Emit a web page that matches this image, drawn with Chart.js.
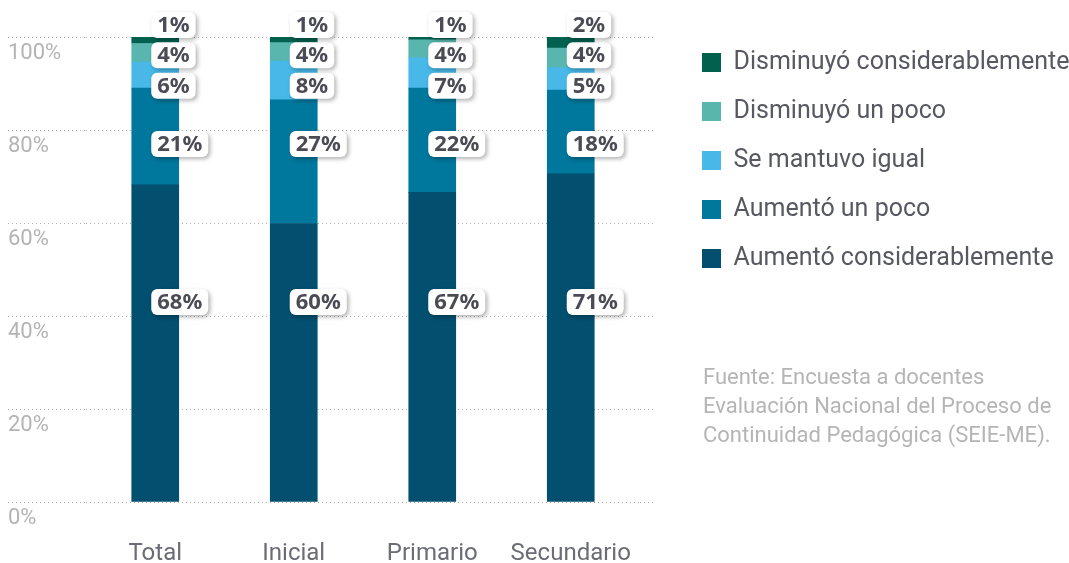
<!DOCTYPE html>
<html>
<head>
<meta charset="utf-8">
<script src="https://cdn.jsdelivr.net/npm/chart.js@4.4.1/dist/chart.umd.min.js"></script>
<style>
  html, body { margin: 0; padding: 0; background: #fff; }
  #wrap { width: 1069px; height: 563px; position: relative; }
</style>
</head>
<body>
<div id="wrap"><canvas id="chart"></canvas></div>
<script>
// ---- data (% of docentes) ----
const categories = ['Total', 'Inicial', 'Primario', 'Secundario'];
const aumentoCons = [68.2, 59.9, 66.6, 70.6];
const aumentoPoco = [20.8, 26.6, 22.4, 18.0];
const seMantuvo   = [5.6, 8.3, 6.5, 4.8];
const disminuyoPoco = [4.0, 4.0, 3.9, 4.2];
const disminuyoCons = [1.4, 1.2, 0.6, 2.4];
const seriesNames = ['Aumentó considerablemente', 'Aumentó un poco', 'Se mantuvo igual', 'Disminuyó un poco', 'Disminuyó considerablemente'];
const yTicks = [0, 20, 40, 60, 80, 100];
const fuente = ['Fuente: Encuesta a docentes', 'Evaluación Nacional del Proceso de', 'Continuidad Pedagógica (SEIE-ME).'];

const colors = ['#034f6f', '#00779c', '#47b8e8', '#59b6ae', '#02604f'];
// level (in axis %) where each series' value boxes sit
const labelLevels = [43, 77, 89.5, 96.1, 102.6];

Chart.defaults.font.family = 'Roboto';

const FONT_LEGEND = 25;
const legendW = (() => {
    const c = document.createElement('canvas').getContext('2d');
    c.font = FONT_LEGEND + 'px Roboto';
    let m = 0;
    seriesNames.forEach(s => m = Math.max(m, c.measureText(s).width));
    return 19 + FONT_LEGEND / 2 + m;
})();
const padRight = 1069 - 702 - legendW - 10;

const valueLabels = {
    id: 'valueLabels',
    afterDatasetsDraw(chart) {
        const ctx = chart.ctx, y = chart.scales.y;
        ctx.save();
        ctx.font = 'bold 22px "Noto Sans"';
        ctx.textBaseline = 'middle';
        chart.data.datasets.forEach((ds, d) => {
            chart.getDatasetMeta(d).data.forEach((bar, i) => {
                const txt = Math.round(ds.data[i]) + '%';
                const w = ctx.measureText(txt).width + 12, h = 26;
                const bx = bar.x - 4, by = y.getPixelForValue(labelLevels[d]) - h / 2;
                ctx.shadowColor = 'rgba(0,0,0,0.3)';
                ctx.shadowBlur = 4; ctx.shadowOffsetX = 2; ctx.shadowOffsetY = 2;
                ctx.fillStyle = '#fff';
                ctx.beginPath(); ctx.roundRect(bx, by, w, h, 6); ctx.fill();
                ctx.shadowColor = 'transparent';
                ctx.fillStyle = '#4b4b55';
                ctx.fillText(txt, bx + 6, by + h / 2 + 1);
            });
        });
        ctx.restore();
    }
};

const sourceNote = {
    id: 'sourceNote',
    afterDraw(chart) {
        const ctx = chart.ctx;
        ctx.save();
        ctx.font = '22px Roboto';
        ctx.fillStyle = '#b5b5b5';
        ctx.textBaseline = 'middle';
        fuente.forEach((t, i) => ctx.fillText(t, 703, 378 + i * 29));
        ctx.restore();
    }
};

const dotted = { color: '#b0b0b0', lineWidth: 1, tickColor: '#b0b0b0', tickWidth: 1, tickBorderDash: [1, 3] };

new Chart(document.getElementById('chart'), {
    type: 'bar',
    data: {
        labels: categories,
        datasets: [aumentoCons, aumentoPoco, seMantuvo, disminuyoPoco, disminuyoCons].map((v, i) => ({
            label: seriesNames[i], data: v, backgroundColor: colors[i], borderWidth: 0, barThickness: 47
        }))
    },
    options: {
        responsive: true,
        maintainAspectRatio: false,
        animation: false,
        layout: { padding: { left: 8, top: 26, right: padRight, bottom: 0 } },
        plugins: {
            tooltip: { enabled: false },
            legend: {
                position: 'right',
                align: 'start',
                reverse: true,
                maxWidth: 500,
                labels: { boxWidth: 19, boxHeight: 19, padding: 24, color: '#575862', font: { size: FONT_LEGEND } }
            }
        },
        scales: {
            x: {
                stacked: true,
                grid: { display: false },
                border: { display: false },
                ticks: { color: '#6b6c75', font: { size: 24 }, padding: 30 },
                afterFit: s => { s.height = 61; }
            },
            y: {
                stacked: true, min: 0, max: 100,
                afterBuildTicks: s => { s.ticks = yTicks.map(v => ({ value: v })); },
                grid: Object.assign({ tickLength: 78 }, dotted),
                border: { display: false, dash: [1, 3] },
                ticks: { callback: v => v + '%', color: '#b4b4b4', font: { size: 22 }, crossAlign: 'far', labelOffset: 16, padding: 0 },
                afterFit: s => { s.width = 78; s.paddingTop = 37; }
            },
            y2: {
                position: 'right', min: 0, max: 100,
                afterBuildTicks: s => { s.ticks = yTicks.map(v => ({ value: v })); },
                grid: Object.assign({ tickLength: 16, drawOnChartArea: false }, dotted),
                border: { display: false, dash: [1, 3] },
                ticks: { display: false },
                afterFit: s => { s.width = 38; }
            }
        }
    },
    plugins: [valueLabels, sourceNote]
});
</script>
</body>
</html>
